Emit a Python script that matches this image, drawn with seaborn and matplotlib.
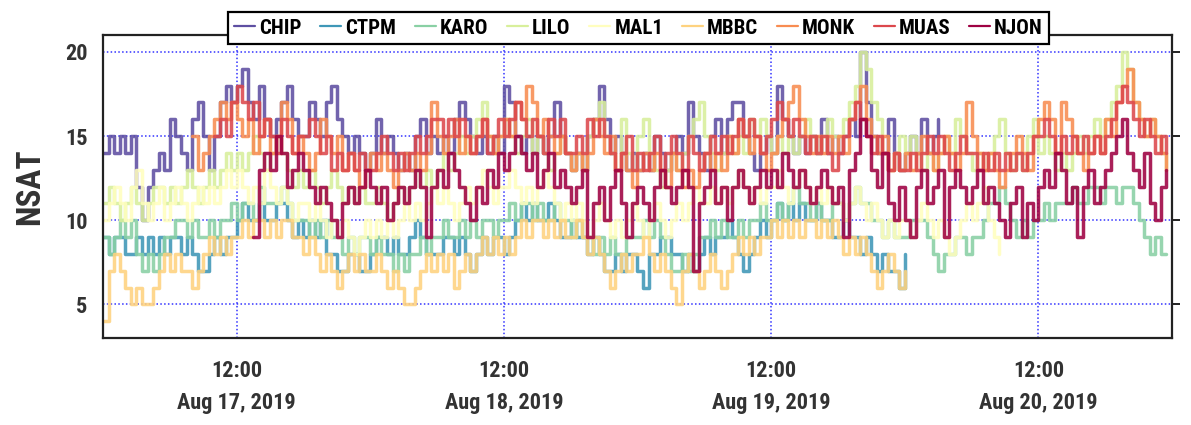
import numpy as np
import pandas as pd
import matplotlib
matplotlib.use("Agg")
import matplotlib.pyplot as plt
from matplotlib import font_manager
import seaborn as sns

# Number of tracked satellites per GNSS station, 30-minute epochs
STEP = "30min"
stations = ["CHIP", "CTPM", "KARO", "LILO", "MAL1", "MBBC", "MONK", "MUAS", "NJON"]

chip_start = "2019-08-17 00:00"
chip = [14, 15, 14, 15, 14, 15, 12, 10, 12, 13, 14, 13,
        16, 15, 14, 13, 16, 17, 15, 13, 15, 17, 18, 17,
        18, 19, 17, 16, 18, 16, 15, 16, 17, 18, 16, 15,
        15, 17, 16, 15, 17, 18, 16, 15, 14, 15, 14, 13,
        14, 16, 14, 15, 14, 13, 14, 13, 15, 16, 14, 15,
        14, 15, 14, 16, 17, 16, 15, 14, 15, 14, 15, 14,
        18, 17, 15, 14, 15, 14, 15, 14, 15, 17, 15, 14,
        13, 14, 13, 15, 16, 18, 16, 14, 15, 14, 13, 14,
        13, 14, 13, 15, 14, 13, 14, 15, 14, 17, 15, 14,
        13, 15, 16, 14, 16, 17, 17, 15, 14, 13, 14, 15,
        14, 18, 16, 15, 14, 15, 14, 15, 14, 16, 14, 15,
        14, 15, 16, 15, 20, 17, 15, 14, 14, 16, 14, 13,
        14, 15, 14, 16, 14, 15, 16]

ctpm_start = "2019-08-17 00:00"
ctpm = [9, 8, 9, 9, 8, 8, 9, 8, 9, 8, 9, 8,
        9, 9, 8, 9, 8, 7, 7, 8, 9, 8, 9, 9,
        10, 11, 10, 10, 11, 10, 10, 11, 11, 10, 9, 10,
        9, 10, 9, 10, 8, 8, 7, 7, 8, 8, 7, 7,
        8, 9, 9, 8, 9, 8, 8, 9, 10, 9, 8, 8,
        8, 9, 9, 8, 9, 8, 7, 8, 9, 8, 9, 9,
        8, 9, 10, 11, 10, 11, 10, 10, 11, 10, 9, 9,
        10, 9, 9, 8, 9, 8, 7, 7, 8, 7, 8, 8,
        7, 6, 8, 8, 9, 9, 8, 8, 7, 8, 7, 8,
        9, 8, 9, 9, 10, 9, 8, 7, 8, 9, 10, 9,
        10, 11, 10, 11, 10, 11, 10, 10, 11, 10, 10, 9,
        9, 10, 9, 9, 8, 9, 8, 7, 8, 7, 7, 6,
        8]

karo_start = "2019-08-17 00:00"
karo = [9, 8, 9, 10, 9, 10, 8, 7, 8, 7, 8, 9,
        9, 10, 10, 9, 10, 9, 9, 10, 9, 10, 10, 11,
        10, 11, 11, 10, 12, 11, 11, 11, 12, 11, 10, 10,
        10, 9, 10, 9, 10, 9, 9, 8, 9, 8, 9, 9,
        8, 9, 8, 8, 7, 8, 7, 8, 8, 9, 8, 9,
        9, 10, 9, 9, 10, 9, 10, 9, 10, 10, 9, 10,
        10, 11, 10, 11, 11, 10, 11, 10, 10, 11, 10, 10,
        9, 10, 9, 9, 8, 9, 8, 9, 8, 8, 9, 9,
        9, 10, 9, 10, 9, 8, 7, 7, 8, 7, 8, 9,
        9, 10, 9, 10, 9, 9, 10, 9, 10, 10, 11, 10,
        10, 11, 10, 11, 12, 11, 11, 10, 11, 10, 10, 11,
        11, 10, 11, 12, 11, 11, 10, 10, 9, 10, 9, 9,
        9, 10, 10, 10, 9, 8, 7, 8, 8, 9, 9, 8,
        9, 9, 10, 11, 11, 12, 11, 10, 9, 10, 9, 10,
        10, 11, 10, 11, 11, 11, 12, 11, 11, 12, 12, 11,
        12, 12, 11, 12, 12, 11, 10, 9, 8, 9, 8, 8]

lilo_start = "2019-08-17 00:00"
lilo = [11, 12, 11, 10, 11, 12, 11, 10, 11, 12, 12, 11,
        12, 11, 12, 13, 12, 11, 12, 13, 12, 13, 14, 13,
        14, 13, 14, 15, 14, 13, 14, 15, 14, 13, 12, 13,
        12, 13, 12, 11, 12, 13, 12, 11, 12, 11, 12, 11,
        11, 12, 11, 10, 11, 12, 11, 12, 13, 12, 13, 12,
        13, 14, 13, 14, 15, 14, 15, 16, 17, 15, 14, 15,
        16, 15, 14, 15, 16, 14, 15, 14, 13, 14, 15, 14,
        13, 14, 13, 15, 16, 17, 15, 14, 13, 16, 14, 13,
        15, 16, 14, 13, 12, 13, 14, 13, 14, 15, 16, 17,
        15, 14, 13, 14, 15, 14, 15, 14, 16, 15, 16, 15,
        14, 15, 14, 15, 14, 15, 16, 15, 14, 15, 16, 15,
        15, 16, 17, 18, 20, 19, 17, 16, 14, 13, 14, 15,
        14, 15, 14, 13, 14, 13, 14, 15, 14, 16, 15, 14,
        13, 14, 13, 14, 15, 16, 14, 13, 14, 13, 15, 16,
        14, 15, 14, 13, 14, 13, 14, 15, 14, 15, 16, 15,
        16, 17, 18, 20, 19, 17, 16, 15, 16, 15, 14, 13]

mal1_start = "2019-08-17 00:00"
mal1 = [10, 11, 12, 11, 10, 12, 13, 11, 10, 11, 12, 10,
        11, 12, 11, 10, 11, 12, 11, 12, 11, 12, 13, 12,
        13, 12, 11, 12, 11, 13, 12, 11, 12, 11, 10, 11,
        11, 10, 11, 10, 9, 10, 9, 10, 9, 8, 9, 10,
        9, 10, 9, 10, 9, 10, 11, 10, 11, 10, 11, 12,
        11, 12, 11, 10, 11, 12, 11, 12, 13, 12, 11, 12,
        12, 13, 12, 11, 12, 11, 12, 13, 12, 11, 10, 11,
        10, 11, 10, 9, 10, 11, 10, 9, 10, 9, 10, 11,
        10, 9, 10, 11, 10, 9, 10, 11, 10, 11, 12, 11,
        11, 12, 11, 12, 11, 12, 13, 12, 11, 12, 11, 12,
        12, 13, 12, 11, 12, 13, 12, 11, 12, 11, 12, 11,
        11, 10, 11, 12, 11, 10, 11, 10, 9, 10, 9, 10,
        10, 9, 10, 11, 10, 9, 10, 9, 8, 9, 10, 11,
        10, 11, 12, 10, 9, 8]

mbbc_start = "2019-08-17 00:00"
mbbc = [4, 7, 8, 7, 6, 5, 6, 5, 5, 6, 7, 8,
        7, 8, 7, 7, 6, 7, 8, 9, 8, 9, 8, 9,
        9, 10, 9, 10, 10, 9, 10, 9, 10, 10, 9, 9,
        8, 9, 8, 7, 8, 7, 6, 7, 8, 7, 8, 7,
        7, 8, 7, 6, 7, 6, 5, 5, 6, 7, 8, 7,
        8, 7, 8, 6, 7, 8, 7, 8, 9, 8, 9, 8,
        9, 8, 9, 10, 9, 10, 10, 9, 10, 9, 10, 9,
        9, 10, 9, 8, 9, 8, 7, 6, 7, 8, 7, 8,
        8, 9, 8, 7, 8, 7, 6, 5, 7, 8, 7, 6,
        7, 8, 7, 6, 7, 8, 9, 8, 9, 8, 9, 9,
        10, 9, 10, 9, 10, 9, 10, 10, 9, 10, 9, 10,
        9, 8, 9, 8, 9, 8, 7, 6, 7, 8, 7, 6,
        7]

monk_start = "2019-08-17 08:00"
monk = [15, 13, 14, 15, 16, 17, 16, 17,
        16, 15, 16, 14, 15, 16, 14, 15, 17, 16, 14, 15,
        14, 13, 14, 16, 15, 14, 15, 13, 14, 13, 12, 13,
        14, 13, 14, 13, 12, 13, 14, 13, 14, 13, 14, 17,
        15, 14, 15, 16, 14, 15, 14, 15, 16, 15, 14, 15,
        16, 15, 17, 16, 18, 17, 15, 16, 15, 14, 15, 14,
        13, 14, 13, 14, 16, 15, 14, 15, 13, 14, 13, 12,
        13, 14, 13, 14, 13, 12, 14, 13, 12, 13, 12, 13,
        14, 13, 14, 13, 15, 14, 16, 15, 14, 15, 14, 13,
        14, 15, 16, 17, 18, 16, 15, 14, 15, 14, 15, 14,
        15, 14, 16, 17, 18, 16, 15, 14, 15, 13, 14, 13,
        14, 13, 14, 15, 14, 13, 14, 15, 14, 13, 14, 17,
        15, 14, 13, 14, 13, 12, 13, 14, 15, 14, 13, 15,
        16, 17, 16, 14, 17, 16, 15, 14, 13, 14, 15, 14,
        16, 15, 17, 18, 19, 17, 16, 15, 16, 15, 14, 13]

muas_start = "2019-08-17 10:00"
muas = [15, 16, 15, 17,
        18, 17, 16, 17, 15, 16, 15, 14, 16, 15, 14, 15,
        15, 16, 15, 14, 15, 13, 14, 13, 14, 13, 14, 13,
        13, 14, 15, 14, 13, 14, 13, 14, 15, 14, 15, 16,
        16, 15, 16, 15, 16, 15, 14, 15, 16, 14, 15, 16,
        15, 16, 17, 16, 15, 16, 15, 14, 16, 15, 16, 14,
        14, 15, 14, 16, 15, 16, 15, 14, 13, 14, 15, 13,
        14, 13, 14, 15, 13, 14, 15, 14, 13, 15, 14, 13,
        14, 15, 14, 15, 14, 15, 16, 15, 16, 15, 14, 15,
        16, 17, 16, 15, 16, 15, 14, 15, 14, 15, 14, 13,
        14, 15, 16, 17, 16, 15, 14, 15, 14, 13, 14, 13,
        13, 14, 13, 14, 15, 14, 15, 14, 13, 14, 15, 14,
        14, 13, 14, 13, 14, 13, 14, 13, 14, 13, 14, 15,
        15, 16, 15, 14, 15, 14, 15, 14, 15, 14, 15, 14,
        15, 16, 17, 18, 17, 16, 15, 16, 15, 14, 15, 14]

njon_start = "2019-08-17 13:30"
njon = [9, 13, 14, 13, 15, 14, 12, 13, 14,
        13, 12, 11, 12, 11, 10, 9, 11, 12, 11, 12, 13,
        12, 11, 12, 10, 11, 12, 11, 12, 13, 12, 9, 12,
        13, 12, 14, 13, 12, 11, 10, 12, 11, 13, 12, 14,
        13, 14, 15, 14, 13, 14, 12, 13, 14, 12, 13, 12,
        11, 12, 13, 9, 11, 12, 10, 12, 13, 11, 9, 11,
        12, 11, 10, 12, 13, 12, 11, 12, 13, 12, 7, 11,
        12, 13, 11, 12, 10, 12, 13, 12, 11, 12, 13, 12,
        13, 12, 14, 13, 12, 13, 12, 11, 12, 13, 12, 11,
        12, 9, 13, 14, 16, 15, 13, 12, 14, 11, 10, 12,
        10, 9, 12, 13, 11, 12, 13, 9, 12, 13, 12, 11,
        12, 13, 11, 12, 11, 10, 9, 11, 12, 9, 11, 10,
        12, 13, 12, 14, 13, 11, 12, 9, 12, 13, 11, 12,
        13, 14, 15, 16, 14, 13, 12, 14, 11, 10, 12, 13]

series = {
    "CHIP": (chip_start, chip),
    "CTPM": (ctpm_start, ctpm),
    "KARO": (karo_start, karo),
    "LILO": (lilo_start, lilo),
    "MAL1": (mal1_start, mal1),
    "MBBC": (mbbc_start, mbbc),
    "MONK": (monk_start, monk),
    "MUAS": (muas_start, muas),
    "NJON": (njon_start, njon),
}

frames = []
for name in stations:
    start, vals = series[name]
    t = pd.date_range(start, periods=len(vals), freq=STEP)
    frames.append(pd.DataFrame({"time": t, "nsat": vals, "station": name}))
df = pd.concat(frames, ignore_index=True)

tick_times = pd.to_datetime(["2019-08-17 12:00", "2019-08-18 12:00",
                             "2019-08-19 12:00", "2019-08-20 12:00"])
x_range = pd.to_datetime(["2019-08-17 00:00", "2019-08-21 00:00"])
y_ticks = [5, 10, 15, 20]

sns.set_style("white")

# Prefer a condensed sans face when one is installed
installed = {f.name for f in font_manager.fontManager.ttflist}
condensed = ["Liberation Sans Narrow", "Arial Narrow", "Roboto Condensed",
             "Open Sans Condensed"]
preferred = condensed + ["Liberation Sans", "DejaVu Sans"]
families = [f for f in preferred if f in installed] or ["DejaVu Sans"]
narrow = families[0] in condensed
plt.rcParams["font.family"] = families
plt.rcParams["font.weight"] = "bold"

scale = 1.0 if narrow else 0.86
tick_size = 16 * scale
ylab_size = 24 * scale
leg_size = 15 * scale

cmap = plt.get_cmap("Spectral_r")
palette = [cmap(v) for v in np.linspace(0, 1, len(stations))]

text_color = "#333333"
fig = plt.figure(figsize=(11.91, 4.25), dpi=100)
ax = fig.add_axes([0.0865, 0.2047, 0.8975, 0.7129])

sns.lineplot(data=df, x="time", y="nsat", hue="station", hue_order=stations,
             palette=palette, drawstyle="steps-post", linewidth=2.5, alpha=0.88,
             estimator=None, errorbar=None, ax=ax)

ax.set_xlim(x_range[0], x_range[1])
ax.set_ylim(3, 21)
ax.set_yticks(y_ticks)
ax.set_xticks(tick_times)
ax.set_xticklabels([f"{d:%H:%M}\n{d:%b} {d.day}, {d.year}" for d in tick_times],
                   linespacing=1.6)

ax.set_axisbelow(True)
ax.grid(True, color="#1010ff", linestyle=(0, (1, 1.5)), linewidth=1.1, alpha=0.85)

for sp in ax.spines.values():
    sp.set_color("#222222")
    sp.set_linewidth(1.6)

ax.tick_params(axis="both", direction="out", length=6, width=1.4,
               color="#222222", labelcolor=text_color, labelsize=tick_size, pad=5)
ax.tick_params(axis="y", right=True)
ax.tick_params(axis="x", pad=10)

ax.set_xlabel("")
ax.set_ylabel("NSAT", fontsize=ylab_size, fontweight="bold", color=text_color, labelpad=14)

handles, labels = ax.get_legend_handles_labels()
for h in handles:
    h.set_linewidth(1.6)
    h.set_alpha(1.0)
leg = ax.legend(handles, labels, ncol=len(stations), loc="center",
                bbox_to_anchor=(0.501, 1.023), frameon=True, fancybox=False,
                edgecolor="black", framealpha=1.0, handlelength=1.0,
                handletextpad=0.2, columnspacing=0.9, borderpad=0.3,
                prop={"size": leg_size, "weight": "bold"})
leg.get_frame().set_linewidth(1.6)
for txt in leg.get_texts():
    txt.set_color("black")

fig.savefig("out.png", dpi=100)
